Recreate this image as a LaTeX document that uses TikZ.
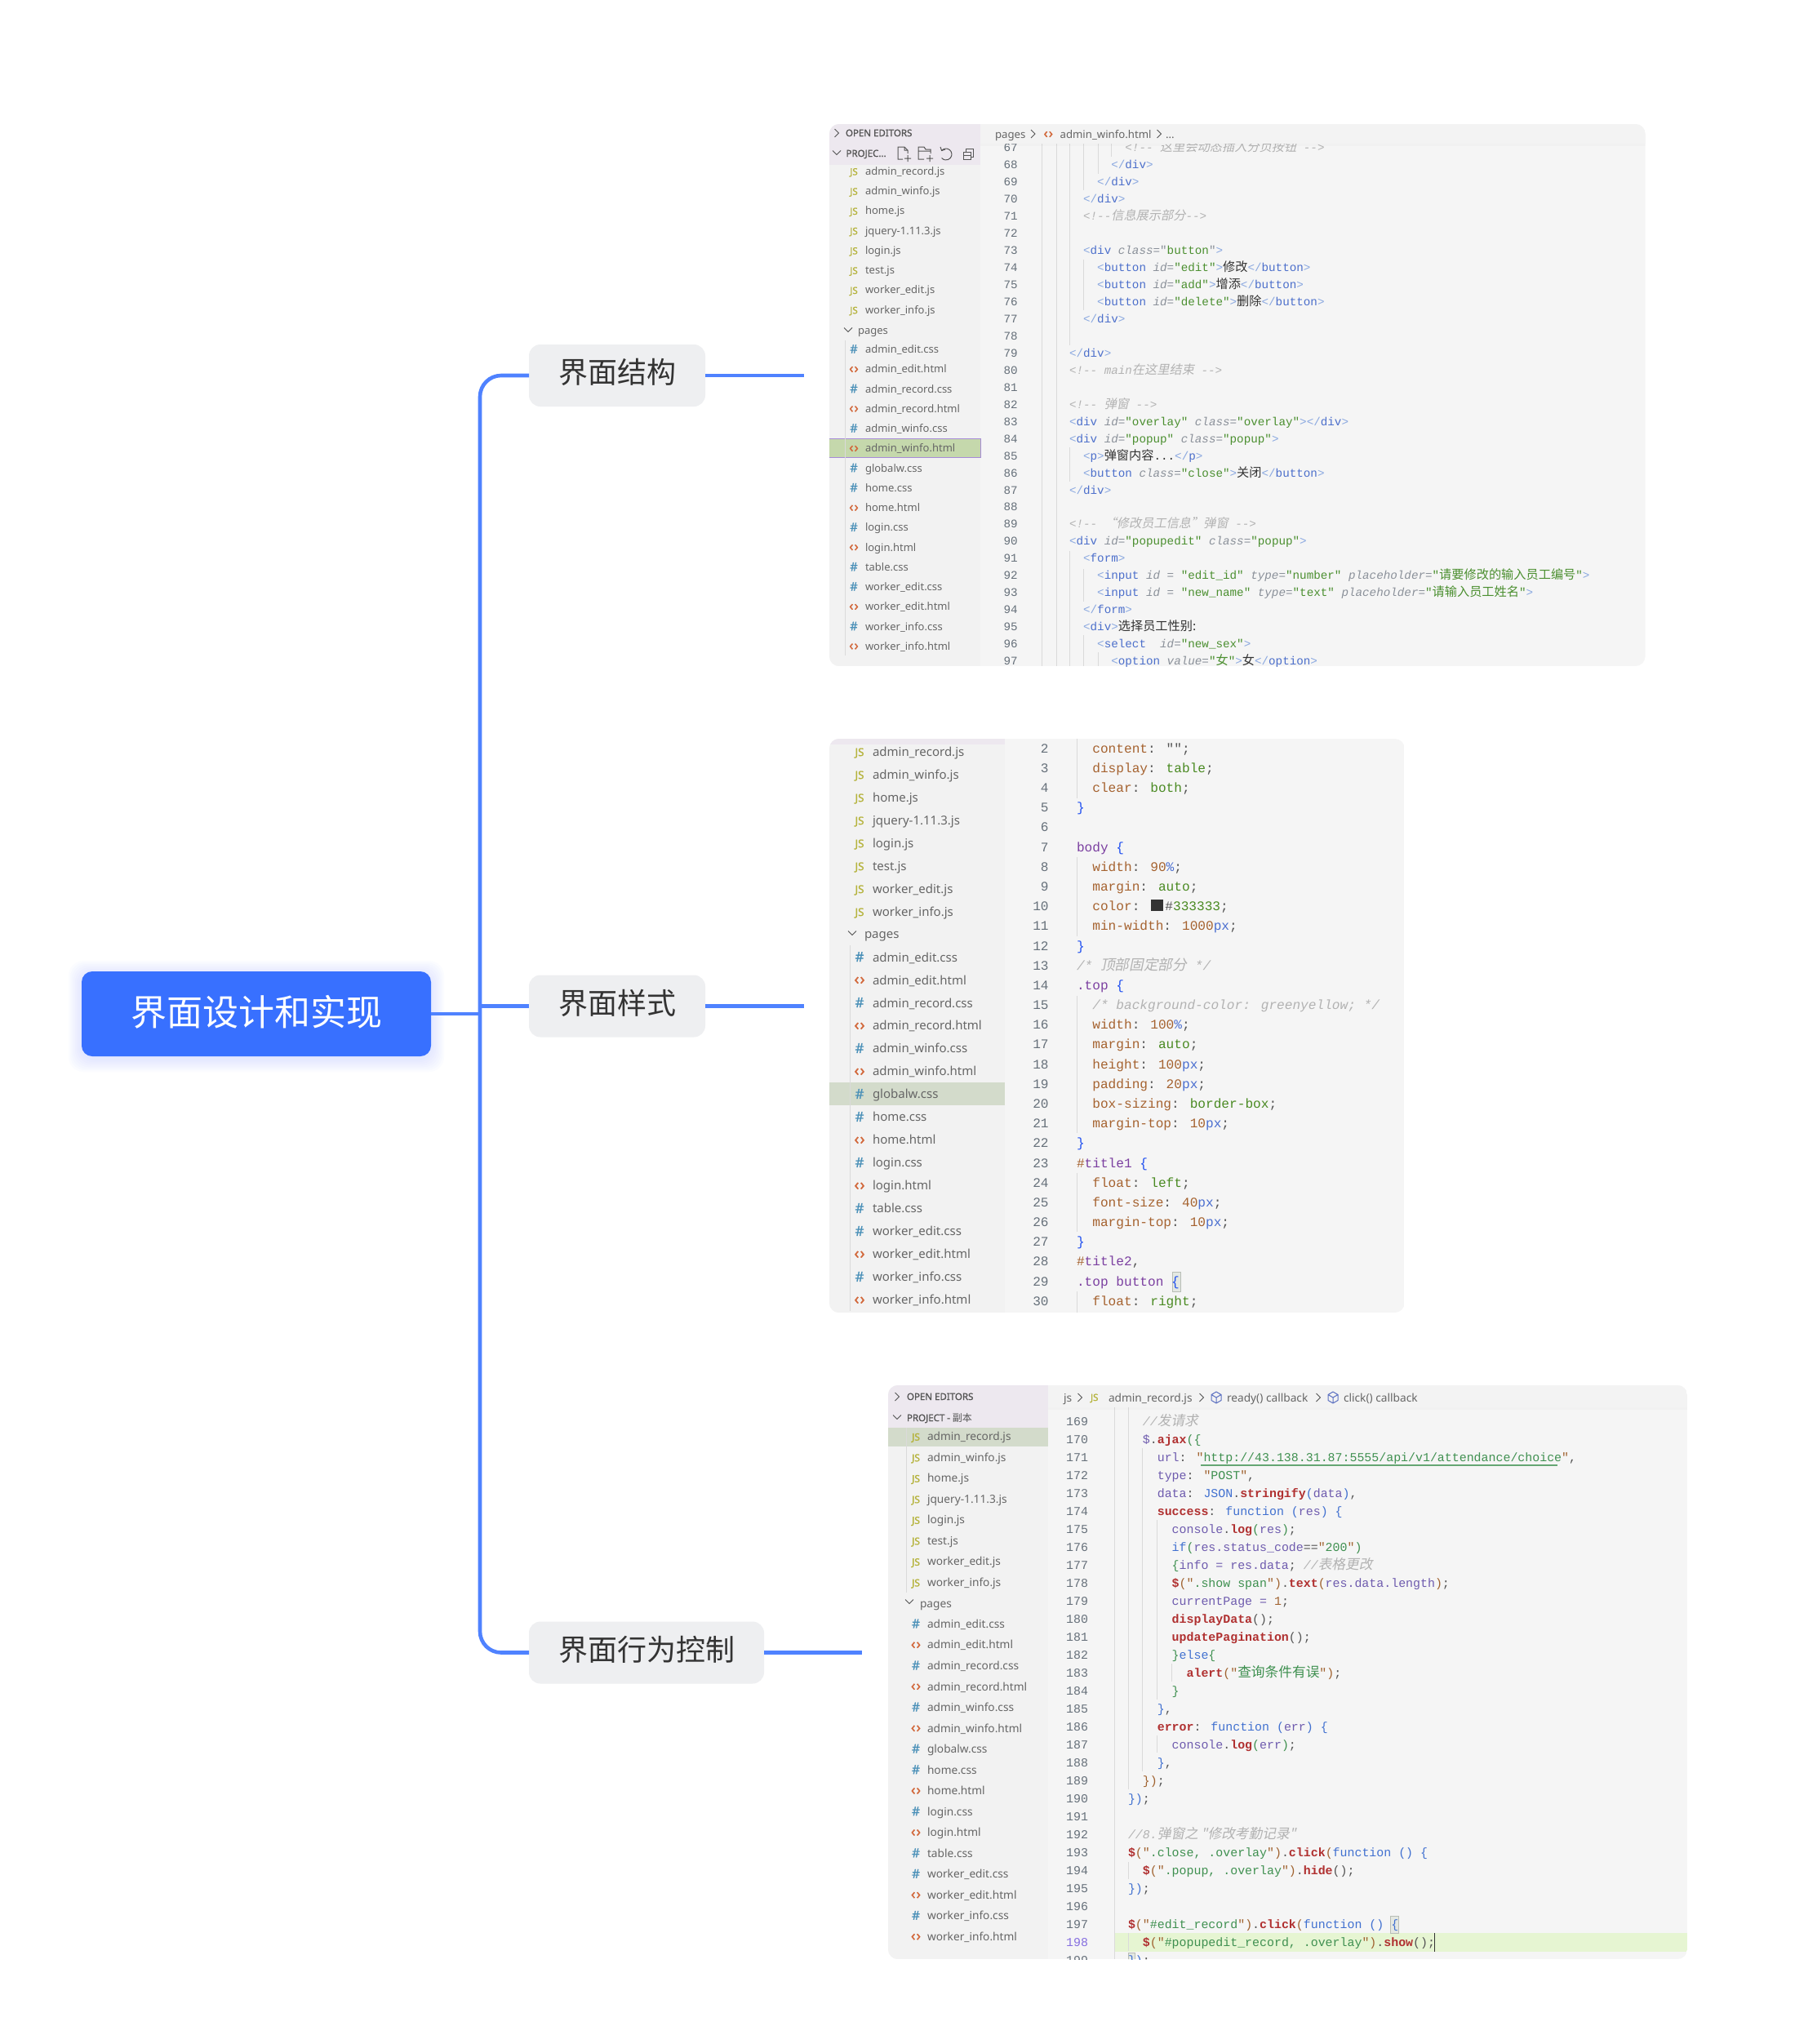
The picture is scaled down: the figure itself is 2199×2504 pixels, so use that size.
\documentclass[tikz,border=0pt]{standalone}
\usepackage{fontspec}
\newfontfamily\monof{Liberation Mono}
\newfontfamily\sbf{Noto Sans}
\newfontfamily\sbfb[FakeBold=1.3]{Noto Sans}
\newfontfamily\cjk{Noto Sans CJK SC}
\newfontfamily\cjkit[FakeSlant=0.2]{Noto Sans CJK SC}
\definecolor{hbr}{HTML}{8AA8E0}
\definecolor{hbl}{HTML}{4C6FCB}
\definecolor{hat}{HTML}{8A9099}
\definecolor{hst}{HTML}{4B8F30}
\definecolor{cmt}{HTML}{B2B2B2}
\definecolor{txtd}{HTML}{333333}
\definecolor{cpr}{HTML}{A5622F}
\definecolor{cvl}{HTML}{4A8A22}
\definecolor{cun}{HTML}{4B6FD0}
\definecolor{csl}{HTML}{7B3FA0}
\definecolor{cbr}{HTML}{1F4FF0}
\definecolor{cpu}{HTML}{555555}
\definecolor{jvr}{HTML}{6E5BAE}
\definecolor{jfn}{HTML}{B03030}
\definecolor{jkw}{HTML}{4070D0}
\definecolor{jst}{HTML}{3F9050}
\definecolor{jbn}{HTML}{A0622F}
\definecolor{lnc}{HTML}{66707A}
\definecolor{blueroot}{HTML}{3870FF}
\definecolor{bluel}{HTML}{4F82FF}
\definecolor{boxg}{HTML}{EEEFF1}
\definecolor{edbg}{HTML}{F5F5F5}
\definecolor{sdbg}{HTML}{F2F2F2}
\definecolor{hdbg}{HTML}{EDE8EF}
\definecolor{barbg}{HTML}{F3F3F3}
\definecolor{sel}{HTML}{D3DBCB}
\definecolor{sela}{HTML}{C5D8AC}
\definecolor{selb}{HTML}{A78BD8}
\definecolor{sdtx}{HTML}{666666}
\definecolor{gd}{HTML}{DADADA}
\definecolor{jsc}{HTML}{B5B33C}
\definecolor{hashc}{HTML}{4A90B8}
\definecolor{htmc}{HTML}{D2693C}
\definecolor{cubec}{HTML}{5A6FC0}
\definecolor{brhi}{HTML}{E4E8E2}
\definecolor{brhd}{HTML}{B8BDB5}
\definecolor{curl}{HTML}{E6F5D2}
\newcounter{tn}
\def\cjsz{15}
\newcommand\cj[1]{{\cjk\fontsize{\cjsz}{\cjsz}\selectfont #1}}
\newcommand\cji[1]{{\cjkit\fontsize{\cjsz}{\cjsz}\selectfont #1}}
% html
\newcommand\hO[1]{\textcolor{hbr}{<}\textcolor{hbl}{#1}}
\newcommand\hE[1]{\textcolor{hbr}{</}\textcolor{hbl}{#1}\textcolor{hbr}{>}}
\newcommand\hC{\textcolor{hbr}{>}}
\newcommand\hA[1]{\textcolor{hat}{\itshape #1}}
\newcommand\hS[1]{\textcolor{hst}{#1}}
\newcommand\hT[1]{\textcolor{txtd}{\cj{#1}}}
\newcommand\hM[1]{\textcolor{cmt}{\itshape #1}}
% css
\newcommand\cP[1]{\textcolor{cpr}{#1}}
\newcommand\cV[1]{\textcolor{cvl}{#1}}
\newcommand\cU[1]{\textcolor{cun}{#1}}
\newcommand\cL[1]{\textcolor{csl}{#1}}
\newcommand\cB[1]{\textcolor{cbr}{#1}}
% js
\newcommand\jV[1]{\textcolor{jvr}{#1}}
\newcommand\jF[1]{\textcolor{jfn}{\bfseries #1}}
\newcommand\jK[1]{\textcolor{jkw}{#1}}
\newcommand\jS[1]{\textcolor{jst}{#1}}
\newcommand\jD[1]{\textcolor{jbn}{#1}}
\newcommand\pa[3]{\pgfmathsetmacro\xx{1310+#2*8.55}\pgfmathsetmacro\yy{181+(#1-67)*20.97+4.6}\stepcounter{tn}\node[codea] (c\thetn) at (\xx,\yy) {#3};}
\newcommand\pb[3]{\pgfmathsetmacro\xx{1319+#2*9.68}\pgfmathsetmacro\yy{917+(#1-2)*24.18+5.2}\stepcounter{tn}\node[codeb] (c\thetn) at (\xx,\yy) {#3};}
\newcommand\pc[3]{\pgfmathsetmacro\xx{1382+#2*8.95}\pgfmathsetmacro\yy{1741+(#1-169)*22+5}\stepcounter{tn}\node[codec] (c\thetn) at (\xx,\yy) {#3};}
\newcommand\gdl[3]{\draw[gdline] (#1,#2) -- (#1,#3);}
\newcommand\chR[2]{\draw[chev] (#1-2.5,#2-5) -- (#1+2.5,#2) -- (#1-2.5,#2+5);}
\newcommand\chD[2]{\draw[chev] (#1-5,#2-2.5) -- (#1,#2+2.5) -- (#1+5,#2-2.5);}
\newcommand\cubeic[2]{\begin{scope}[shift={(#1,#2)}]\draw[cubestyle] (0,-7) -- (6,-3.5) -- (6,3.5) -- (0,7) -- (-6,3.5) -- (-6,-3.5) -- cycle (-6,-3.5) -- (0,0) -- (6,-3.5) (0,0) -- (0,7);\end{scope}}
\newcommand\icj{\textcolor{jsc}{\sbfb\fontsize{\icz}{\icz}\selectfont JS}}
\newcommand\ich{\textcolor{hashc}{\sbfb\fontsize{\icy}{\icy}\selectfont \#}}
\newcommand\icx{\textcolor{htmc}{\sbfb\fontsize{\icw}{\icw}\selectfont ‹\kern1pt›}}
\def\filelist{0/j/admin\_record.js,1/j/admin\_winfo.js,2/j/home.js,3/j/jquery-1.11.3.js,4/j/login.js,5/j/test.js,6/j/worker\_edit.js,7/j/worker\_info.js,9/h/admin\_edit.css,10/x/admin\_edit.html,11/h/admin\_record.css,12/x/admin\_record.html,13/h/admin\_winfo.css,14/x/admin\_winfo.html,15/h/globalw.css,16/h/home.css,17/x/home.html,18/h/login.css,19/x/login.html,20/h/table.css,21/h/worker\_edit.css,22/x/worker\_edit.html,23/h/worker\_info.css,24/x/worker\_info.html}
% prefix, x icon, x text, y0, step, text size, icon scale
\newcommand\sidebarl[7]{%
 \pgfmathsetmacro\icz{11.5*#7}\pgfmathsetmacro\icy{14.5*#7}\pgfmathsetmacro\icw{17*#7}%
 \foreach \ri/\ty/\nm in \filelist {%
  \pgfmathsetmacro\yy{#4+\ri*#5+0.34*#6}%
  \node[sbt,anchor=base] (#1i\ri) at (#2,\yy) {\csname ic\ty\endcsname};%
  \node[sbt,anchor=base west,font=\sbf\fontsize{#6}{#6}\selectfont] (#1t\ri) at (#3,\yy) {\nm};%
 }%
}
\tikzset{
 codea/.style={anchor=base west,inner sep=0pt,outer sep=0pt,text=hat,font=\monof\fontsize{14.25}{17}\selectfont},
 codeb/.style={anchor=base west,inner sep=0pt,outer sep=0pt,text=cpu,font=\monof\fontsize{16.13}{19}\selectfont},
 codec/.style={anchor=base west,inner sep=0pt,outer sep=0pt,text=cpu,font=\monof\fontsize{14.92}{18}\selectfont},
 lna/.style={anchor=base east,inner sep=0pt,outer sep=0pt,text=lnc,font=\monof\fontsize{14.25}{17}\selectfont},
 lnb/.style={anchor=base east,inner sep=0pt,outer sep=0pt,text=lnc,font=\monof\fontsize{16.13}{19}\selectfont},
 lnd/.style={anchor=base east,inner sep=0pt,outer sep=0pt,text=lnc,font=\monof\fontsize{14.92}{18}\selectfont},
 sbt/.style={inner sep=0pt,outer sep=0pt,text=sdtx,font=\sbf},
 crumb/.style={anchor=base west,inner sep=0pt,outer sep=0pt,text=sdtx,font=\sbf\fontsize{13.2}{15}\selectfont},
 crumbc/.style={anchor=base west,inner sep=0pt,outer sep=0pt,text=sdtx,font=\sbf\fontsize{13.7}{15}\selectfont},
 hdr/.style={anchor=base west,inner sep=0pt,outer sep=0pt,text=cpu,font=\sbfb\fontsize{11.5}{13}\selectfont},
 gdline/.style={draw=gd,line width=1pt},
 chev/.style={draw=cpu,line width=1pt},
 tool/.style={draw=cpu,line width=1pt},
 cubestyle/.style={draw=cubec,line width=1pt,line join=round},
 conn/.style={draw=bluel,line width=4.6pt},
 rootn/.style={fill=blueroot,text=white,rounded corners=13pt,inner sep=0pt,outer sep=0pt,minimum width=428pt,minimum height=104pt,text depth=8.3pt,font=\cjk\fontsize{44}{50}\selectfont},
 branch/.style={fill=boxg,text=txtd,rounded corners=14pt,inner sep=0pt,outer sep=0pt,minimum height=76pt,text depth=10.3pt,font=\cjk\fontsize{36}{42}\selectfont},
 brbox/.style={fill=brhi,draw=brhd,line width=0.8pt},
}
\begin{document}
\begin{tikzpicture}[x=1pt,y=-1pt]
\path[use as bounding box,fill=white] (0,0) rectangle (2199,2504);
% ---------- root glow
\foreach \r in {2,4,...,16}{\fill[blueroot,opacity=0.016,rounded corners=18pt] (100-\r,1190-\r+3) rectangle (528+\r,1294+\r+3);}
\node[rootn] (root) at (314,1242) {界面设计和实现};
\node[branch,minimum width=216pt] (b1) at (756,460) {界面结构};
\node[branch,minimum width=216pt] (b2) at (756,1232.5) {界面样式};
\node[branch,minimum width=288pt] (b3) at (792,2024.5) {界面行为控制};
\coordinate (j) at (588,1242);
\coordinate (e1) at (984.5,460);
\coordinate (e2) at (984.5,1232.5);
\coordinate (e3) at (1056,2024.5);
\draw[conn] (root.east) -- (j);
\draw[conn,rounded corners=26pt] (b1.west) -| (j) |- (b3.west);
\draw[conn,rounded corners=8pt] (j |- b2.west) -- (b2.west);
\draw[conn] (b1.east) -- (e1);
\draw[conn] (b2.east) -- (e2);
\draw[conn] (b3.east) -- (e3);
% ---------- PANEL 1
\begin{scope}
\clip[rounded corners=12pt] (1016,152) rectangle (2015.5,816);
\fill[edbg] (1016,152) rectangle (2015.5,816);
\fill[sdbg] (1016,152) rectangle (1201,816);
\gdl{1276}{176}{816}\gdl{1294}{176}{816}
\gdl{1310.6}{176}{423}\gdl{1327.5}{176}{233}\gdl{1345}{176}{213}\gdl{1361.6}{176}{192}
\gdl{1327.5}{318}{380}\gdl{1310.6}{548}{590}\gdl{1310.6}{675}{816}
\gdl{1327.5}{697}{737}\gdl{1327.5}{778}{816}\gdl{1345}{799}{816}
\def\cjsz{15.2}
\foreach \nn in {67,...,97}{\pgfmathsetmacro\yy{181+(\nn-67)*20.97+4.6}\node[lna] (pan\nn) at (1246.6,\yy) {\nn};}
\pa{67}{8}{\hM{<!-- \cji{这里会动态插入分页按钮} -->}}
\pa{68}{6}{\hE{div}}
\pa{69}{4}{\hE{div}}
\pa{70}{2}{\hE{div}}
\pa{71}{2}{\hM{<!--\cji{信息展示部分}-->}}
\pa{73}{2}{\hO{div} \hA{class}="\hS{button}"\hC}
\pa{74}{4}{\hO{button} \hA{id}=\hS{"edit"}\hC\hT{修改}\hE{button}}
\pa{75}{4}{\hO{button} \hA{id}=\hS{"add"}\hC\hT{增添}\hE{button}}
\pa{76}{4}{\hO{button} \hA{id}=\hS{"delete"}\hC\hT{删除}\hE{button}}
\pa{77}{2}{\hE{div}}
\pa{79}{0}{\hE{div}}
\pa{80}{0}{\hM{<!-- main\cji{在这里结束} -->}}
\pa{82}{0}{\hM{<!-- \cji{弹窗} -->}}
\pa{83}{0}{\hO{div} \hA{id}=\hS{"overlay"} \hA{class}=\hS{"overlay"}\hC\hE{div}}
\pa{84}{0}{\hO{div} \hA{id}=\hS{"popup"} \hA{class}=\hS{"popup"}\hC}
\pa{85}{2}{\hO{p}\hC\hT{弹窗内容}\textcolor{txtd}{...}\hE{p}}
\pa{86}{2}{\hO{button} \hA{class}=\hS{"close"}\hC\hT{关闭}\hE{button}}
\pa{87}{0}{\hE{div}}
\pa{89}{0}{\hM{<!-- \cji{“修改员工信息”弹窗} -->}}
\pa{90}{0}{\hO{div} \hA{id}=\hS{"popupedit"} \hA{class}=\hS{"popup"}\hC}
\pa{91}{2}{\hO{form}\hC}
\pa{92}{4}{\hO{input} \hA{id} = \hS{"edit\_id"} \hA{type}=\hS{"number"} \hA{placeholder}=\hS{"\cj{请要修改的输入员工编号}"}\hC}
\pa{93}{4}{\hO{input} \hA{id} = \hS{"new\_name"} \hA{type}=\hS{"text"} \hA{placeholder}=\hS{"\cj{请输入员工姓名}"}\hC}
\pa{94}{2}{\hE{form}}
\pa{95}{2}{\hO{div}\hC\hT{选择员工性别:}}
\pa{96}{4}{\hO{select}\ \ \hA{id}=\hS{"new\_sex"}\hC}
\pa{97}{6}{\hO{option} \hA{value}=\hS{"\cj{女}"}\hC\hT{女}\hE{option}}
% bars
\fill[barbg] (1201,152) rectangle (2015.5,176);
\fill[black,opacity=0.015] (1201,176) rectangle (2015.5,179);
\fill[hdbg] (1016,152) rectangle (1201,202);
% sidebar
\draw[fill=sela,draw=selb,line width=1pt] (1014,537) rectangle (1201,560);
\draw[gdline] (1035.5,417) -- (1035.5,803);
\sidebarl{sa}{1046}{1060}{210}{24.25}{13}{1}
\chD{1039}{404}
\node[sbt,anchor=base west,font=\sbf\fontsize{13}{15}\selectfont] (sap) at (1051,409) {pages};
\chR{1025}{163}\chD{1025}{187}
\node[hdr] (saoe) at (1036,167) {OPEN EDITORS};
\node[hdr] (sapj) at (1036.5,192) {PROJEC...};
% toolbar icons
\begin{scope}[shift={(1107,188)}]\draw[tool] (-1,7) -- (-7,7) -- (-7,-8) -- (1,-8) -- (5,-4) -- (5,0) (1,-8) -- (1,-4) -- (5,-4) (1,6) -- (9,6) (5,2) -- (5,10);\end{scope}
\begin{scope}[shift={(1133,188)}]\draw[tool] (-1,7) -- (-8,7) -- (-8,-8) -- (-1,-8) -- (1,-5) -- (7,-5) -- (7,0) (-8,-3) -- (7,-3) (2,6) -- (10,6) (6,2) -- (6,10);\end{scope}
\begin{scope}[shift={(1159,188)}]\draw[tool] (-5.4,-3.5) arc[start angle=220,end angle=500,radius=7]; \draw[tool] (-7,-8) -- (-5.4,-3.5) -- (-1,-5);\end{scope}
\begin{scope}[shift={(1186,188)}]\draw[tool] (-6,-2) rectangle (3,7) (-6,2.5) -- (3,2.5) (-3,-2) -- (-3,-6) -- (6,-6) -- (6,4) -- (3,4);\end{scope}
% crumb
\node[crumb] (ca1) at (1219,169) {pages};
\chR{1265.5}{164}
\node[crumb,text=htmc,font=\sbfb\fontsize{17}{18}\selectfont] (ca2) at (1278.5,169) {‹\kern1pt›};
\node[crumb] (ca3) at (1298.6,169) {admin\_winfo.html};
\chR{1420}{164}
\node[crumb] (ca4) at (1428,169) {...};
\end{scope}
% ---------- PANEL 2
\begin{scope}
\clip[rounded corners=12pt] (1016,905) rectangle (1720.7,1608);
\fill[edbg] (1016,905) rectangle (1720.7,1608);
\fill[sdbg] (1016,905) rectangle (1231,1608);
\fill[hdbg] (1016,905) rectangle (1231,912);
\fill[sel] (1016,1326) rectangle (1231,1354);
\draw[gdline] (1041,1158) -- (1041,1606);
\gdl{1319}{905}{978}\gdl{1319}{1050}{1147}\gdl{1319}{1220}{1388}\gdl{1319}{1437}{1509}\gdl{1319}{1582}{1608}
\def\cjsz{17.7}
\foreach \nn in {2,...,30}{\pgfmathsetmacro\yy{917+(\nn-2)*24.18+5.2}\node[lnb] (pbn\nn) at (1284.6,\yy) {\nn};}
\sidebarl{sb}{1053}{1069}{921}{27.99}{15}{1.15}
\chD{1044}{1143}
\node[sbt,anchor=base west,font=\sbf\fontsize{15}{17}\selectfont] (sbp) at (1059,1149) {pages};
\path[brbox] (1436,1558) rectangle (1446,1582);
\pb{2}{2}{\cP{content}: "";}
\pb{3}{2}{\cP{display}: \cV{table};}
\pb{4}{2}{\cP{clear}: \cV{both};}
\pb{5}{0}{\cB{\}}}
\pb{7}{0}{\cL{body} \cB{\{}}
\pb{8}{2}{\cP{width}: \cP{90}\cU{\%};}
\pb{9}{2}{\cP{margin}: \cV{auto};}
\pb{10}{2}{\cP{color}:}
\fill[txtd] (1410,1102) rectangle (1425,1116);
\pb{10}{11.2}{\#\cV{333333};}
\pb{11}{2}{\cP{min-width}: \cP{1000}\cU{px};}
\pb{12}{0}{\cB{\}}}
\pb{13}{0}{\hM{/* \cji{顶部固定部分} */}}
\pb{14}{0}{\cL{.top} \cB{\{}}
\pb{15}{2}{\hM{/* background-color: greenyellow; */}}
\pb{16}{2}{\cP{width}: \cP{100}\cU{\%};}
\pb{17}{2}{\cP{margin}: \cV{auto};}
\pb{18}{2}{\cP{height}: \cP{100}\cU{px};}
\pb{19}{2}{\cP{padding}: \cP{20}\cU{px};}
\pb{20}{2}{\cP{box-sizing}: \cV{border-box};}
\pb{21}{2}{\cP{margin-top}: \cP{10}\cU{px};}
\pb{22}{0}{\cB{\}}}
\pb{23}{0}{\cP{\#}\cL{title1} \cB{\{}}
\pb{24}{2}{\cP{float}: \cV{left};}
\pb{25}{2}{\cP{font-size}: \cP{40}\cU{px};}
\pb{26}{2}{\cP{margin-top}: \cP{10}\cU{px};}
\pb{27}{0}{\cB{\}}}
\pb{28}{0}{\cP{\#}\cL{title2},}
\pb{29}{0}{\cL{.top button} \cB{\{}}
\pb{30}{2}{\cP{float}: \cV{right};}
\end{scope}
% ---------- PANEL 3
\begin{scope}
\clip[rounded corners=12pt] (1088,1697) rectangle (2067,2400);
\fill[edbg] (1088,1697) rectangle (2067,2400);
\fill[sdbg] (1088,1697) rectangle (1284,2400);
\fill[hdbg] (1088,1697) rectangle (1284,1749);
\fill[sel] (1088,1749) rectangle (1284,1772);
\fill[curl] (1365,2368) rectangle (2067,2391);
\draw[gdline] (1110,1749) -- (1110,1951);
\gdl{1365}{1724}{2400}\gdl{1382.5}{1724}{2192}\gdl{1399}{1774}{2170}\gdl{1417}{1862}{2082}\gdl{1417}{2126}{2147}\gdl{1435.6}{2038}{2060}
\gdl{1382.5}{2281}{2302}\gdl{1382.5}{2368}{2390}
\def\cjsz{16.7}
\foreach \nn in {169,...,197,199}{\pgfmathsetmacro\yy{1741+(\nn-169)*22+5}\node[lnd] (pcn\nn) at (1333,\yy) {\nn};}
\node[lnd,text=selb!80!blue] (pcn198) at (1333,2384) {198};
\sidebarl{sc}{1122}{1136}{1760}{25.53}{13.7}{1.05}
\chD{1114}{1962}
\node[sbt,anchor=base west,font=\sbf\fontsize{13.7}{16}\selectfont] (scp) at (1127,1969) {pages};
\chR{1099}{1711}\chD{1099}{1736}
\node[hdr] (scoe) at (1111,1715) {OPEN EDITORS};
\node[hdr] (scpj) at (1111,1741) {PROJECT - \cj{\fontsize{12}{13}\selectfont 副本}};
\path[brbox] (1703.5,2347) rectangle (1713,2368);
\path[brbox] (1382,2392) rectangle (1390,2404);
\draw[draw=jst!80,line width=1.6pt] (1471,1795) -- (1908,1795);
\pc{169}{2}{\hM{//\cji{发请求}}}
\pc{170}{2}{\jV{\$}.\jF{ajax}\jS{(\{}}
\pc{171}{4}{\jV{url}: \jD{"}\jS{http://43.138.31.87:5555/api/v1/attendance/choice}\jD{"},}
\pc{172}{4}{\jV{type}: \jD{"}\jS{POST}\jD{"},}
\pc{173}{4}{\jV{data}: \jK{JSON}.\jF{stringify}\jK{(}\jV{data}\jK{)},}
\pc{174}{4}{\jF{success}: \jK{function (}\jV{res}\jK{) \{}}
\pc{175}{6}{\jV{console}.\jF{log}\jS{(}\jV{res}\jS{)};}
\pc{176}{6}{\jK{if}\jS{(}\jV{res.status\_code}==\jD{"}\jS{200}\jD{"}\jS{)}}
\pc{177}{6}{\jS{\{}\jV{info = res.data}; \hM{//\cji{表格更改}}}
\pc{178}{6}{\jF{\$}\jD{("}\jS{.show span}\jD{")}.\jF{text}\jD{(}\jV{res.data.length}\jD{)};}
\pc{179}{6}{\jV{currentPage =} \jD{1};}
\pc{180}{6}{\jF{displayData}();}
\pc{181}{6}{\jF{updatePagination}();}
\pc{182}{6}{\jS{\}}\jK{else}\jS{\{}}
\pc{183}{8}{\jF{alert}\jD{("}\jS{\cj{查询条件有误}}\jD{")};}
\pc{184}{6}{\jS{\}}}
\pc{185}{4}{\jK{\}},}
\pc{186}{4}{\jF{error}: \jK{function (}\jV{err}\jK{) \{}}
\pc{187}{6}{\jV{console}.\jF{log}\jS{(}\jV{err}\jS{)};}
\pc{188}{4}{\jK{\}},}
\pc{189}{2}{\jD{\})};}
\pc{190}{0}{\jK{\})};}
\pc{192}{0}{\hM{//8.\cji{弹窗之 "修改考勤记录"}}}
\pc{193}{0}{\jF{\$}\jD{("}\jS{.close, .overlay}\jD{")}.\jF{click}\jD{(}\jK{function () \{}}
\pc{194}{2}{\jF{\$}\jD{("}\jS{.popup, .overlay}\jD{")}.\jF{hide}();}
\pc{195}{0}{\jK{\})};}
\pc{197}{0}{\jF{\$}\jD{("}\jS{\#edit\_record}\jD{")}.\jF{click}\jD{(}\jK{function () \{}}
\pc{198}{2}{\jF{\$}\jD{("}\jS{\#popupedit\_record, .overlay}\jD{")}.\jF{show}();}
\pc{199}{0}{\jK{\})};}
\draw[txtd,line width=1.4pt] (1757.6,2368) -- (1757.6,2391);
\fill[barbg] (1284,1697) rectangle (2067,1724);
\fill[black,opacity=0.015] (1284,1724) rectangle (2067,1727);
% crumb
\node[crumbc] (cc1) at (1303,1717) {js};
\chR{1323}{1712}
\pgfmathsetmacro\icz{11.5}
\node[crumbc] (cc2) at (1336,1716) {\icj};
\node[crumbc] (cc3) at (1358,1717) {admin\_record.js};
\chR{1472}{1712}
\cubeic{1490}{1712}
\node[crumbc] (cc4) at (1503,1717) {ready() callback};
\chR{1615}{1712}
\cubeic{1633}{1712}
\node[crumbc] (cc5) at (1646,1717) {click() callback};
\end{scope}
\end{tikzpicture}
\end{document}
